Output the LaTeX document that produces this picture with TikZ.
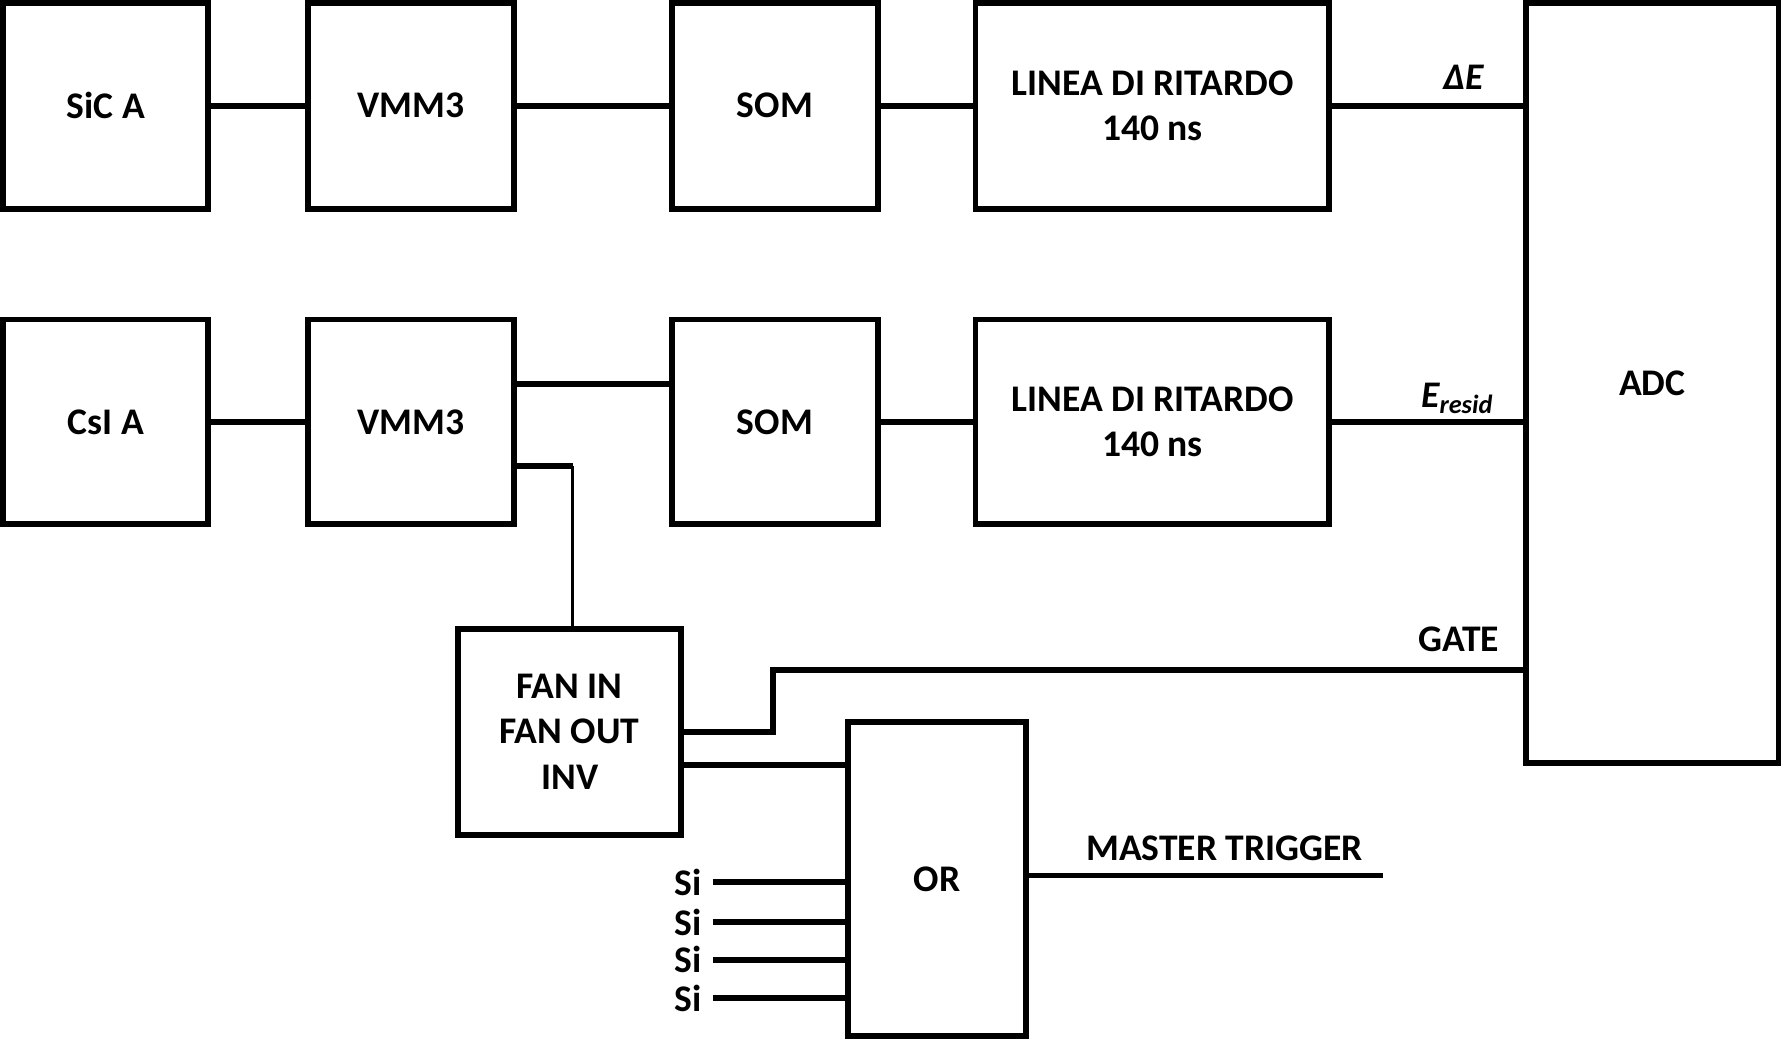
\documentclass[tikz,border=0pt]{standalone}
\usepackage{fontspec}
\setmainfont{Carlito}
\usepackage{tikz}
\usetikzlibrary{calc}

\tikzset{
  blok/.style={draw, line width=1.45pt, align=center, inner sep=0pt,
    font=\fontsize{9.4}{11.3}\selectfont\bfseries},
  wire/.style={line width=1.45pt},
  lbl/.style={inner sep=0pt, font=\fontsize{9.4}{11.3}\selectfont\bfseries}
}

\begin{document}
\begin{tikzpicture}[x=0.01cm, y=0.01cm]
			\useasboundingbox (0,0) rectangle (1568,918);
			% Blocks:
			\node[blok, minimum width=1.80cm, minimum height=1.81cm](SiCA) at (93, 825){SiC A};
			\node[blok, minimum width=1.81cm, minimum height=1.81cm](VMMa) at (361.5, 825){VMM3};
			\node[blok, minimum width=1.81cm, minimum height=1.81cm](SOMa) at (681.5, 825){SOM};
			\node[blok, minimum width=3.11cm, minimum height=1.81cm](LINa) at (1013.5, 825){LINEA DI RITARDO\\140 ns};
			\node[blok, minimum width=1.80cm, minimum height=1.80cm](CsIA) at (93, 547){CsI A};
			\node[blok, minimum width=1.81cm, minimum height=1.80cm](VMMb) at (361.5, 547){VMM3};
			\node[blok, minimum width=1.81cm, minimum height=1.80cm](SOMb) at (681.5, 547){SOM};
			\node[blok, minimum width=3.11cm, minimum height=1.80cm](LINb) at (1013.5, 547){LINEA DI RITARDO\\140 ns};
			\node[blok, minimum width=2.22cm, minimum height=6.68cm](ADC) at (1453, 581){ADC};
			\node[blok, minimum width=1.96cm, minimum height=1.81cm](FAN) at (501, 274.5){FAN IN\\FAN OUT\\INV};
			\node[blok, minimum width=1.56cm, minimum height=2.76cm](OR) at (824, 145){OR};
			% Paths and wires:
			\draw[wire] (SiCA) -- (VMMa);
			\draw[wire] (VMMa) -- (SOMa);
			\draw[wire] (SOMa) -- (LINa);
			\draw[wire] (LINa.east) -- (LINa.east -| ADC.west);
			\node[lbl] (dE) at (1287, 850){\itshape ΔE};
			\draw[wire] (CsIA) -- (VMMb);
			\coordinate (v2a) at ($(VMMb.east)+(0,33)$);
			\coordinate (v2b) at ($(VMMb.east)+(0,-39)$);
			\draw[wire] (v2a) -- (v2a -| SOMb.west);
			\draw[wire] (SOMb) -- (LINb);
			\draw[wire] (LINb.east) -- (LINb.east -| ADC.west);
			\node[lbl] (Er) at (1282, 568){\itshape E\textsubscript{resid}};
			\draw[wire] (v2b) -- ++(49,0) coordinate (v2c);
			\draw[line width=0.9pt] (v2c) -- (v2c |- FAN.north);
			% Gate and trigger:
			\coordinate (gate) at ($(ADC.west)+(0,-252)$);
			\draw[wire] (FAN.east) -- ++(78,0) |- (gate);
			\node[lbl] (gt) at (1283, 356){GATE};
			\coordinate (fo) at ($(FAN.east)+(0,-29.5)$);
			\draw[wire] (fo) -- (fo -| OR.west);
			\foreach \yy/\nm in {142/1, 107/2, 74/3, 40/4}{
				\coordinate (Si\nm) at (627, \yy);
				\node[lbl, anchor=east] at ($(Si\nm)+(-9,0)$){Si};
				\draw[wire] (Si\nm) -- (Si\nm -| OR.west);
			}
			\coordinate (mt) at (1216, 148);
			\draw[wire] (OR.east |- mt) -- (mt);
			\node[lbl] (mtl) at (1077, 172){MASTER TRIGGER};
		\end{tikzpicture}
\end{document}
